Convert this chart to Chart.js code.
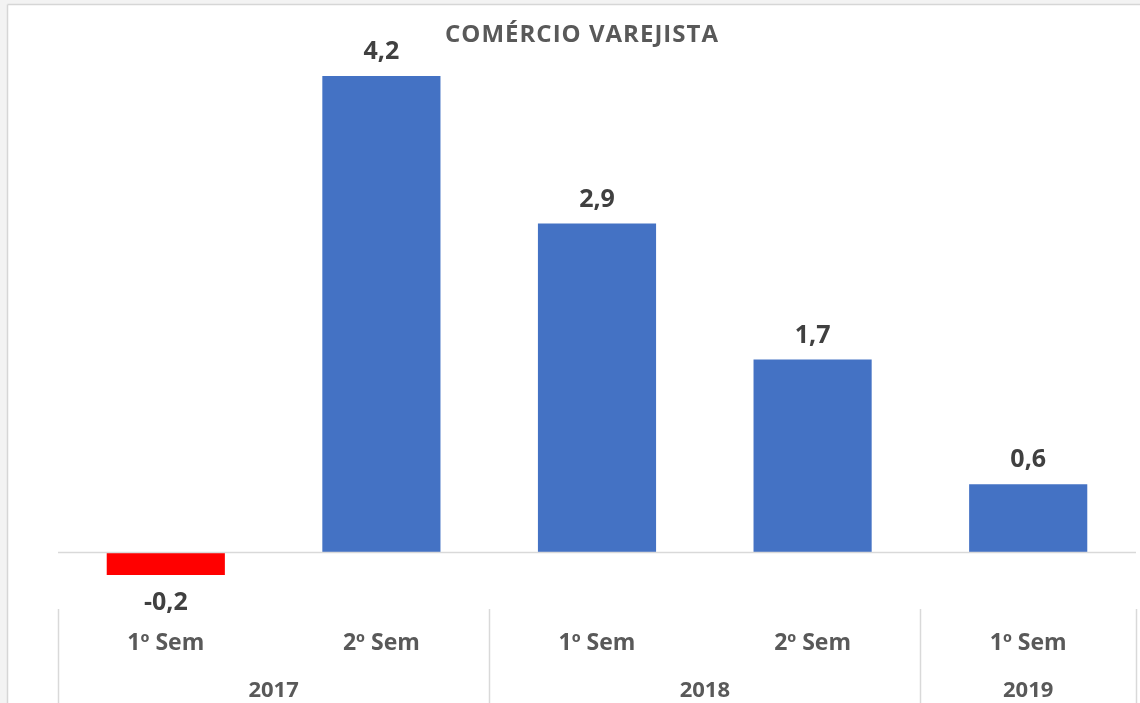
<!DOCTYPE html>
<html>
<head>
<meta charset="utf-8">
<script src="https://cdn.jsdelivr.net/npm/chart.js@4"></script>
<style>
html,body{margin:0;padding:0;background:#fff;}
#wrap{width:1140px;height:703px;position:relative;}
</style>
</head>
<body>
<div id="wrap"><canvas id="c" width="1140" height="703"></canvas></div>
<script>
const titleText = 'COMÉRCIO VAREJISTA';
const categories = ['1º Sem', '2º Sem', '1º Sem', '2º Sem', '1º Sem'];
const values = [-0.2, 4.2, 2.9, 1.7, 0.6];
const years = ['2017', '2018', '2019'];
const yearSpans = [[0, 1], [2, 3], [4, 4]];

const BLUE = '#4472C4', RED = '#FF0000';
const FONT = "'Open Sans', sans-serif";

const frame = {
  id: 'frame',
  beforeDraw(chart) {
    const ctx = chart.ctx;
    ctx.save();
    ctx.fillStyle = '#ffffff';
    ctx.fillRect(0, 0, chart.width, chart.height);
    ctx.fillStyle = '#f3f3f3';
    ctx.fillRect(0, 0, chart.width, 4);
    ctx.fillRect(0, 0, 7, chart.height);
    ctx.strokeStyle = '#d6d6d6';
    ctx.lineWidth = 1.5;
    ctx.beginPath();
    ctx.moveTo(7.5, 4.5); ctx.lineTo(chart.width, 4.5);
    ctx.moveTo(7.5, 4.5); ctx.lineTo(7.5, chart.height);
    ctx.stroke();
    ctx.restore();
  },
  afterDatasetsDraw(chart) {
    const ctx = chart.ctx;
    const x = chart.scales.x, y = chart.scales.y;
    const area = chart.chartArea;
    ctx.save();
    // zero line
    const y0 = Math.round(y.getPixelForValue(0)) + 0.5;
    ctx.strokeStyle = '#d9d9d9';
    ctx.lineWidth = 1.5;
    ctx.beginPath();
    ctx.moveTo(area.left, y0); ctx.lineTo(area.right, y0);
    ctx.stroke();
    // separators
    const half = (x.getPixelForValue(1) - x.getPixelForValue(0)) / 2;
    const seps = [area.left];
    yearSpans.forEach(s => seps.push(x.getPixelForValue(s[1]) + half));
    ctx.beginPath();
    seps.forEach(sx => {
      const px = Math.round(sx) + 0.5;
      ctx.moveTo(px, area.bottom); ctx.lineTo(px, chart.height);
    });
    ctx.stroke();
    // data labels
    ctx.textAlign = 'center';
    ctx.textBaseline = 'middle';
    ctx.fillStyle = '#404040';
    ctx.font = "bold 25px " + FONT;
    const meta = chart.getDatasetMeta(0);
    meta.data.forEach((bar, i) => {
      const v = values[i];
      const label = v.toFixed(1).replace('.', ',');
      if (v >= 0) ctx.fillText(label, bar.x, bar.y - 24);
      else ctx.fillText(label, bar.x, bar.y + 28);
    });
    // category labels
    ctx.fillStyle = '#595959';
    ctx.font = "bold 23px " + FONT;
    categories.forEach((c, i) => {
      ctx.fillText(c, x.getPixelForValue(i), 643);
    });
    ctx.font = "bold 22px " + FONT;
    years.forEach((yr, i) => {
      const s = yearSpans[i];
      const cx = (x.getPixelForValue(s[0]) + x.getPixelForValue(s[1])) / 2;
      ctx.fillText(yr, cx, 691);
    });
    // title
    ctx.font = "bold 24px " + FONT;
    ctx.letterSpacing = '1px';
    ctx.fillText(titleText, 582, 35);
    ctx.restore();
  }
};

new Chart(document.getElementById('c'), {
  type: 'bar',
  data: {
    labels: categories,
    datasets: [{
      data: values,
      backgroundColor: values.map(v => v < 0 ? RED : BLUE),
      borderWidth: 0,
      barPercentage: 1,
      categoryPercentage: 0.548
    }]
  },
  options: {
    responsive: false,
    animation: false,
    layout: { padding: { left: 58, right: 4, top: 42, bottom: 94 } },
    plugins: { legend: { display: false }, tooltip: { enabled: false }, title: { display: false } },
    scales: {
      x: { display: false, offset: true },
      y: { display: false, min: -0.5, max: 4.5 }
    }
  },
  plugins: [frame]
});
</script>
</body>
</html>
